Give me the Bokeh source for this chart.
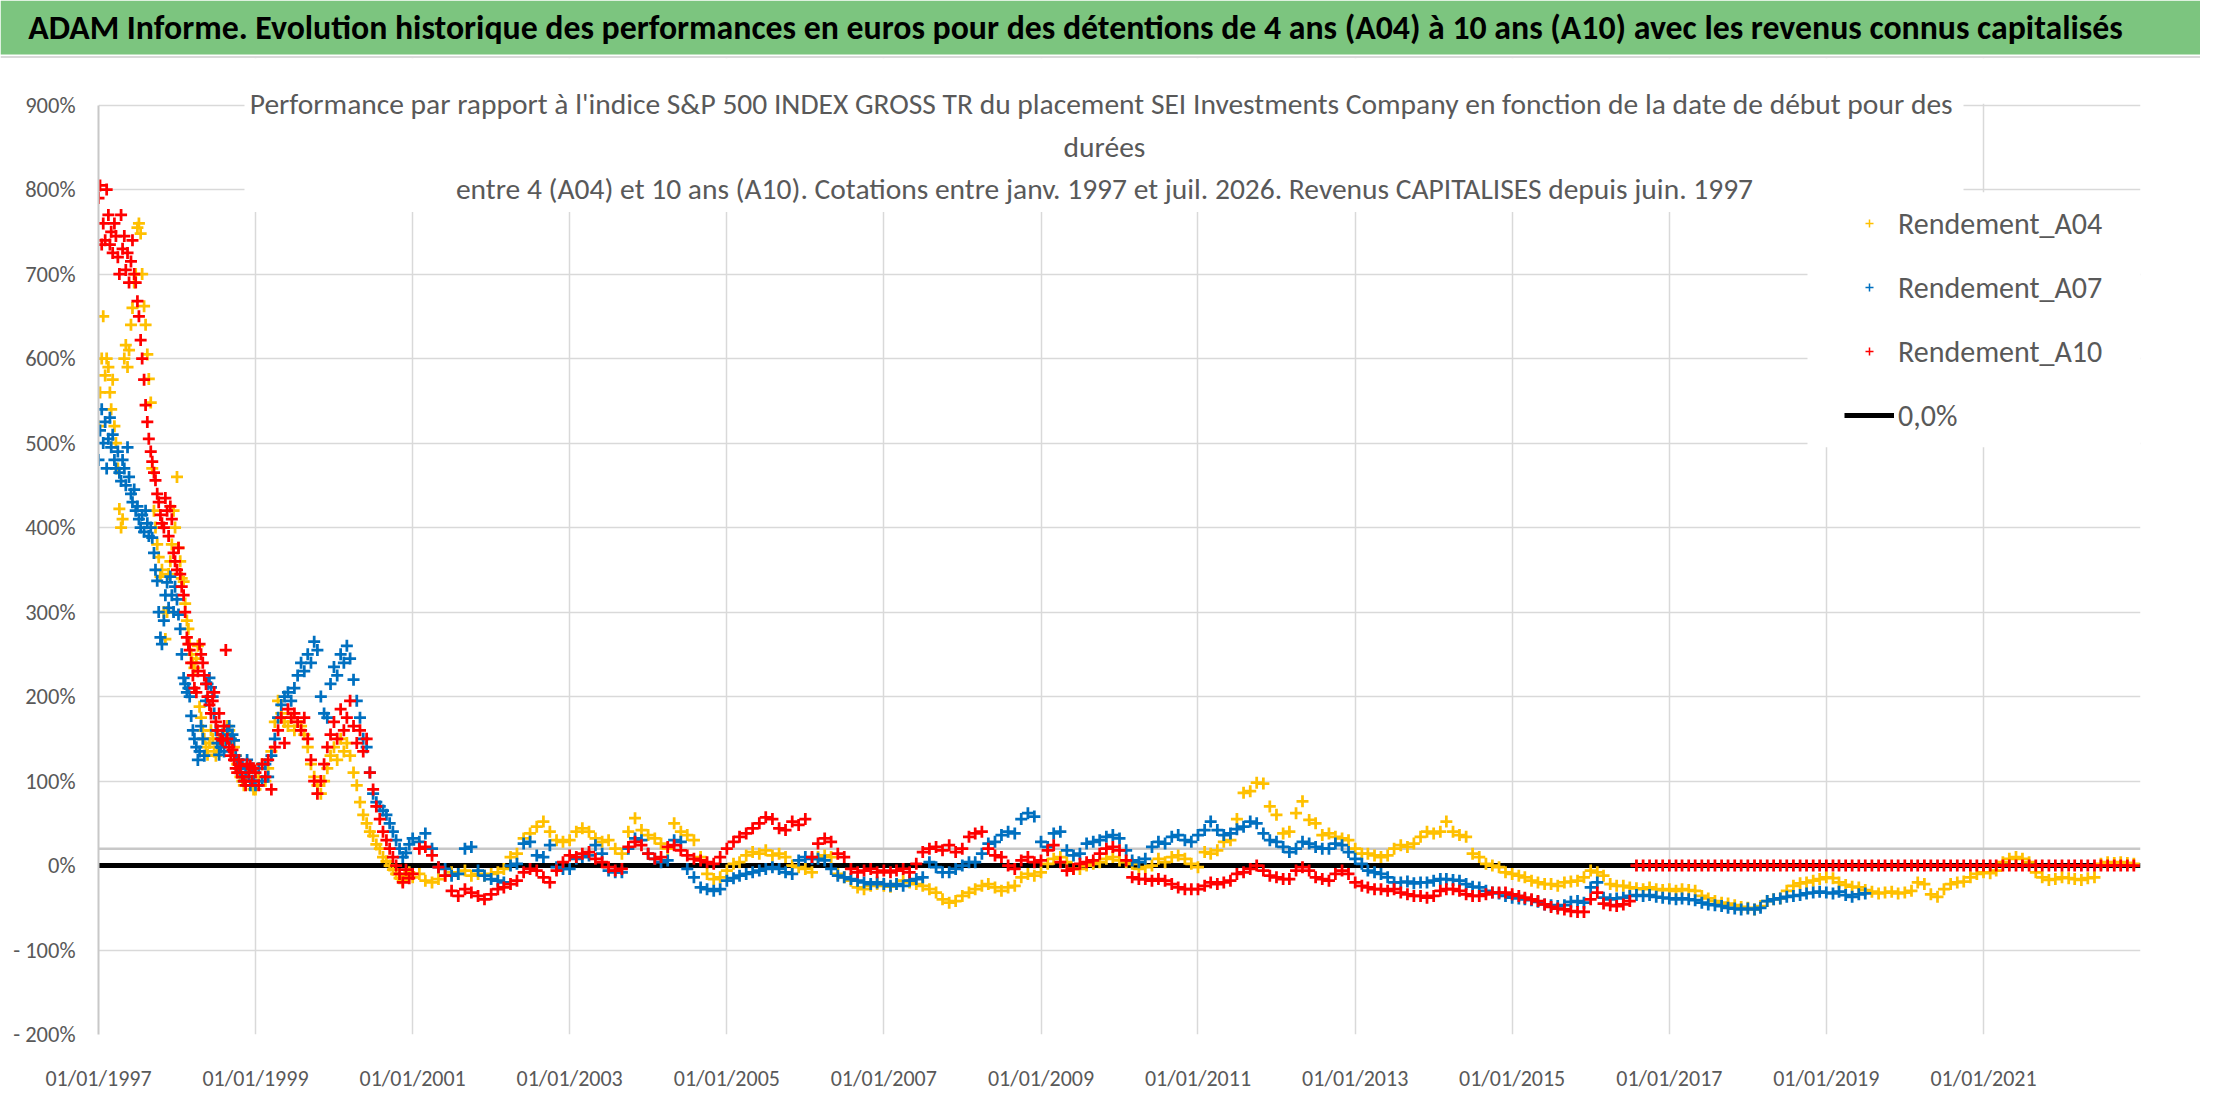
import pandas as pd
from bokeh.plotting import figure
from bokeh.layouts import column
from bokeh.models import (Range1d, FixedTicker, DatetimeTickFormatter, CustomJSTickFormatter,
                          Span, BoxAnnotation, Label, Legend, LegendItem)
from bokeh.embed import file_html
from bokeh.resources import INLINE

# ---- data (performance in %) ----
# 1997-1998: four readings per month (1st, 8th, 16th, 23rd)
a04_9798 = [
    520, 560, 600, 650, 580, 600, 590, 560, 540, 575, 520, 500,
    470, 422, 400, 410, 600, 616, 590, 610, 640, 660, 690, 700,
    755, 760, 748, 700, 662, 640, 605, 576, 548, 470, 420, 400,
    380, 365, 342, 350, 300, 268, 300, 345, 360, 380, 420, 400,
    460, 376, 360, 340, 336, 310, 290, 280, 262, 250, 240, 234,
    245, 260, 188, 175, 160, 150, 140, 131, 145, 160, 150, 135,
    130, 140, 150, 145, 155, 160, 150, 165, 160, 150, 148, 140,
    130, 120, 110, 105, 100, 95, 105, 115, 110, 100, 95, 90,
]
a07_9798 = [
    480, 515, 540, 500, 525, 470, 505, 530, 495, 510, 480, 470,
    490, 465, 455, 480, 470, 450, 495, 460, 440, 430, 445, 420,
    425, 410, 400, 415, 395, 420, 405, 390, 400, 388, 370, 350,
    337, 300, 270, 262, 290, 320, 335, 305, 342, 320, 300, 330,
    315, 297, 280, 250, 222, 215, 205, 210, 200, 177, 160, 150,
    140, 125, 135, 165, 150, 130, 195, 215, 222, 211, 200, 180,
    160, 145, 131, 140, 155, 135, 148, 160, 165, 150, 155, 148,
    130, 125, 115, 110, 120, 100, 110, 125, 105, 95, 115, 100,
]
a10_9798 = [
    790, 805, 735, 760, 740, 800, 770, 735, 750, 725, 760, 745,
    720, 700, 770, 730, 745, 705, 725, 690, 715, 740, 700, 690,
    668, 650, 622, 600, 575, 545, 525, 505, 490, 478, 465, 456,
    440, 430, 415, 405, 400, 435, 420, 390, 425, 410, 370, 360,
    350, 376, 345, 330, 320, 300, 270, 262, 255, 240, 225, 210,
    205, 230, 262, 250, 240, 225, 215, 200, 190, 180, 195, 205,
    170, 160, 180, 150, 148, 165, 255, 150, 140, 130, 137, 125,
    115, 110, 125, 118, 105, 100, 95, 120, 110, 118, 100, 115,
]
# 1999-2000: two readings per month (1st and 16th)
a04_9900 = [
    90, 105, 120, 100, 115, 135, 170, 195, 180, 170, 165, 175,
    160, 170, 165, 155, 140, 120, 105, 95, 85, 100, 115, 130,
    140, 125, 150, 135, 145, 130, 110, 95, 75, 60, 50, 40,
    35, 25, 20, 10, 5, 0, -5, -10, -15, -18, -12, -8,
]
a07_9900 = [
    95, 115, 100, 120, 105, 130, 150, 175, 190, 200, 205, 195,
    210, 225, 240, 230, 250, 240, 265, 255, 200, 180, 175, 215,
    235, 225, 250, 240, 260, 245, 220, 195, 175, 150, 140, 110,
    85, 75, 70, 65, 60, 50, 40, 30, 20, 10, 15, 25,
]
a10_9900 = [
    110, 95, 120, 105, 125, 90, 140, 160, 175, 145, 185, 175,
    180, 170, 160, 175, 150, 125, 100, 85, 100, 120, 140, 155,
    170, 150, 185, 160, 175, 195, 165, 145, 160, 135, 150, 110,
    90, 70, 55, 40, 30, 20, 10, 0, -10, -20, -5, -15,
]

# from 2001: one reading per month
a04_monthly = [
    -14, -10, -18, -20, -16, -12, -8, -10, -6, -12, -10, -12,    # 2001
    -10, -8, -4, 10, 14, 32, 38, 46, 52, 40, 30, 28,             # 2002
    30, 40, 44, 40, 32, 28, 30, 20, 14, 40, 56, 42,              # 2003
    36, 32, 26, 20, 50, 40, 36, 30, 10, -10, -16, -14,           # 2004
    -6, 2, 4, 12, 16, 14, 18, 12, 14, 10, 0, -2,                 # 2005
    -4, -8, 10, 12, 10, -10, -14, -18, -26, -28, -24, -22,       # 2006
    -24, -25, -22, -18, -20, -22, -24, -28, -32, -40, -44, -42,  # 2007
    -36, -32, -28, -24, -22, -26, -30, -26, -24, -14, -10, -12,  # 2008
    -8, 2, 8, 10, 4, -4, -4, 0, 2, 4, 8, 10,                     # 2009
    6, 4, 2, -4, -2, 0, 8, 4, 10, 12, 8, 2,                      # 2010
    -2, 16, 14, 18, 28, 30, 55, 86, 88, 98, 97, 70,              # 2011
    60, 38, 40, 62, 76, 54, 50, 36, 38, 34, 32, 30,              # 2012
    20, 14, 14, 12, 10, 12, 20, 24, 22, 26, 34, 40,              # 2013
    38, 40, 52, 40, 36, 34, 14, 10, 2, 0, -2, -8,                # 2014
    -10, -12, -14, -18, -20, -22, -22, -24, -20, -19, -18, -14,  # 2015
    -6, -8, -12, -22, -24, -24, -26, -27, -28, -26, -28, -29,    # 2016
    -28, -30, -28, -29, -30, -36, -39, -42, -44, -45, -47, -49,  # 2017
    -50, -52, -48, -42, -40, -39, -30, -24, -21, -20, -18, -16,  # 2018
    -14, -15, -20, -23, -25, -26, -29, -31, -33, -32, -31, -33,  # 2019
    -32, -30, -20, -22, -34, -37, -28, -22, -20, -19, -14, -10,  # 2020
    -8, -9, -6, 4, 8, 10, 8, 4, -8, -14, -17, -16,               # 2021
    -14, -15, -16, -17, -15, -14, 2, 4, 3, 4, 3, 2,              # 2022
]
a07_monthly = [
    32, 28, 38, 20, -2, -4, -12, -10, 20, 22, -6, -12,           # 2001
    -16, -18, -20, 0, 2, 26, 28, 12, 10, 24, -2, -4,             # 2002
    -4, 8, 10, 12, 24, 14, -6, -8, -8, 20, 32, 30,               # 2003
    14, 8, 4, 6, 30, 28, -4, -14, -26, -28, -30, -28,            # 2004
    -18, -15, -12, -10, -8, -6, -4, -2, -4, -8, -10, 6,          # 2005
    10, 8, 8, 6, -4, -12, -14, -16, -18, -20, -22, -20,          # 2006
    -22, -24, -22, -24, -18, -16, -14, 4, -2, -8, -8, -4,        # 2007
    0, 4, 4, 14, 26, 28, 36, 40, 38, 55, 62, 58,                 # 2008
    28, 22, 38, 40, 18, 12, 14, 26, 28, 30, 34, 36,              # 2009
    32, 18, 6, 4, 8, 22, 28, 26, 34, 36, 30, 28,                 # 2010
    36, 42, 52, 42, 36, 38, 43, 46, 52, 50, 38, 30,              # 2011
    28, 22, 16, 20, 28, 26, 22, 20, 20, 26, 24, 16,              # 2012
    8, 2, -6, -8, -10, -14, -20, -20, -19, -21, -20, -20,        # 2013
    -18, -16, -16, -17, -18, -22, -25, -26, -30, -32, -33, -36,  # 2014
    -38, -39, -40, -41, -43, -46, -47, -48, -47, -43, -42, -44,  # 2015
    -26, -20, -38, -40, -39, -38, -36, -35, -36, -35, -37, -38,  # 2016
    -39, -40, -39, -40, -41, -44, -46, -47, -48, -50, -51, -52,  # 2017
    -51, -52, -50, -42, -40, -39, -37, -36, -35, -33, -32, -31,  # 2018
    -32, -33, -31, -35, -37, -34, -33,                           # 2019 (to July)
]
a10_monthly = [
    -10, 20, 22, 12, -2, -12, -30, -36, -28, -32, -36, -40,      # 2001
    -34, -28, -26, -22, -18, -8, -4, -6, -14, -20, -6, 4,        # 2002
    12, 10, 14, 16, 8, 4, -2, -6, -4, 22, 28, 24,                # 2003
    14, 8, 10, 22, 24, 18, 12, 8, 6, 4, 2, 10,                   # 2004
    20, 28, 34, 38, 44, 50, 57, 55, 44, 42, 52, 48,              # 2005
    55, 10, 26, 32, 28, 14, 10, -4, -8, -6, -4, -8,              # 2006
    -6, -8, -6, -4, -8, 2, 16, 20, 22, 18, 24, 16,               # 2007
    20, 34, 38, 40, 20, 12, 10, 0, -4, 6, 10, 4,                 # 2008
    6, 18, 24, 4, -6, -4, 2, 4, 6, 14, 20, 22,                   # 2009
    18, 6, -14, -16, -16, -18, -16, -18, -22, -26, -28, -28,     # 2010
    -28, -24, -20, -22, -20, -18, -10, -8, -4, 0, -6, -12,       # 2011
    -14, -16, -16, -6, -2, -6, -14, -16, -18, -10, -6, -10,      # 2012
    -20, -24, -26, -28, -28, -30, -28, -32, -34, -36, -36, -38,  # 2013
    -36, -30, -28, -28, -30, -34, -36, -36, -34, -32, -32, -32,  # 2014
    -34, -36, -38, -40, -42, -46, -49, -51, -52, -54, -55, -55,  # 2015
    -40, -32, -45, -47, -48, -46, -42,                           # 2016 (to July)
    0, 0, 0, 0, 0,                                               # 2016 Aug-Dec
    0, 0, 0, 0, 0, 0, 0, 0, 0, 0, 0, 0,                          # 2017
    0, 0, 0, 0, 0, 0, 0, 0, 0, 0, 0, 0,                          # 2018
    0, 0, 0, 0, 0, 0, 0, 0, 0, 0, 0, 0,                          # 2019
    0, 0, 0, 0, 0, 0, 0, 0, 0, 0, 0, 0,                          # 2020
    0, 0, 0, 0, 0, 0, 0, 0, 0, 0, 0, 0,                          # 2021
    0, 0, 0, 0, 0, 0, 0, 0, 0, 0, 0, 0,                          # 2022
]
zero_dates = ["1997-01-01", "2023-01-01"]
zero_vals = [0, 0]

tick_years = list(range(1997, 2022, 2))
y_ticks = list(range(-200, 1000, 100))

series_names = ["Rendement_A04", "Rendement_A07", "Rendement_A10"]
series_colors = ["#FFC000", "#0070C0", "#FF0000"]

TITLE = ("ADAM Informe. Evolution historique des performances en euros pour des "
         "détentions de 4 ans (A04) à 10 ans (A10) avec les revenus connus capitalisés")
SUB = ["Performance par rapport à l'indice S&P 500 INDEX GROSS TR  du placement SEI Investments "
       "Company en fonction de la date de début pour des",
       "durées",
       "entre 4 (A04) et 10 ans (A10). Cotations entre janv. 1997 et juil. 2026. "
       "Revenus CAPITALISES depuis juin. 1997"]

FONT = "Carlito, Lato, sans-serif"
GREY_TXT = "#595959"
GRID = "#d9d9d9"

# ---- dates ----
dates_9798 = [pd.Timestamp(y, m, d) for y in (1997, 1998)
              for m in range(1, 13) for d in (1, 8, 16, 23)]
dates_9900 = [pd.Timestamp(y, m, d) for y in (1999, 2000)
              for m in range(1, 13) for d in (1, 16)]


def monthly(n):
    return list(pd.date_range("2001-01-01", periods=n, freq="MS"))


early = dates_9798 + dates_9900
dates = [early + monthly(len(a04_monthly)),
         early + monthly(len(a07_monthly)),
         early + monthly(len(a10_monthly))]
values = [a04_9798 + a04_9900 + a04_monthly,
          a07_9798 + a07_9900 + a07_monthly,
          a10_9798 + a10_9900 + a10_monthly]

x0 = pd.Timestamp("1997-01-01").value / 1e6
x1 = pd.Timestamp("2023-01-01").value / 1e6
FRAME_W = 2042
Y_TOP = 955.2   # the plot frame reaches a little above 900 % so the inner title fits


def xpix(px):
    # horizontal position measured in pixels from the left of the plot area
    return x0 + (x1 - x0) * px / FRAME_W


# ---- green title bar ----
t = figure(width=2200, height=58, x_range=Range1d(0, 2200), y_range=Range1d(0, 58),
           output_backend="svg", toolbar_location=None, min_border=0, frame_align=False)
t.axis.visible = False
t.grid.visible = False
t.outline_line_color = None
t.background_fill_color = "white"
t.border_fill_color = "white"
t.add_layout(BoxAnnotation(bottom=4, top=58, left=0, right=2200, fill_color="#7CC57F",
                           fill_alpha=1, line_color=None))
t.add_layout(Span(location=1.5, dimension="width", line_color=GRID, line_width=2))
t.add_layout(Label(x=1075, y=31, text=TITLE, text_align="center", text_baseline="middle",
                   text_font=FONT, text_font_size="33.8px", text_font_style="bold",
                   text_color="black"))

# ---- main chart ----
p = figure(width=2200, height=1036, x_axis_type="datetime",
           x_range=Range1d(x0, x1), y_range=Range1d(-200, Y_TOP),
           output_backend="svg", toolbar_location=None, frame_align=False,
           min_border_left=98, min_border_right=60, min_border_top=0, min_border_bottom=57)
p.outline_line_color = None
p.background_fill_color = "white"
p.border_fill_color = "white"

xticks = [pd.Timestamp(y, 1, 1).value / 1e6 for y in tick_years]
p.xaxis.ticker = FixedTicker(ticks=xticks)
p.xaxis.formatter = DatetimeTickFormatter(years="%d/%m/%Y", months="%d/%m/%Y", days="%d/%m/%Y")
p.yaxis.ticker = FixedTicker(ticks=y_ticks)
p.yaxis.formatter = CustomJSTickFormatter(
    code="return tick < 0 ? '- ' + Math.abs(tick) + '%' : tick + '%';")

for ax in (p.xaxis, p.yaxis):
    ax.major_tick_line_color = None
    ax.minor_tick_line_color = None
    ax.major_label_text_color = GREY_TXT
    ax.major_label_text_font = FONT
    ax.major_label_text_font_size = "22px"
p.yaxis.major_label_text_font_size = "22.5px"
p.xaxis.axis_line_color = None
p.yaxis.axis_line_color = "#c8c8c8"
p.yaxis.axis_line_width = 2
p.yaxis.bounds = (-200, 900)
p.xaxis.major_label_standoff = 24
p.yaxis.major_label_standoff = 17

p.grid.grid_line_color = GRID
p.grid.grid_line_width = 1.5
p.add_layout(Span(location=20, dimension="width", line_color="#c8c8c8", line_width=2.5,
                  level="underlay"))

zero_r = p.line(pd.to_datetime(zero_dates), zero_vals, line_color="black", line_width=5)
legend_marks = []
for d, v, c in zip(dates, values, series_colors):
    p.scatter(d, v, marker="cross", size=12, line_width=2.75, color=c)
    # thin copy of the first point, used for the small legend swatch
    legend_marks.append(p.scatter(d[:1], v[:1], marker="cross", size=8, line_width=1.5,
                                  color=c))

# white areas: above 900 %, behind the inner title and behind the legend
p.add_layout(BoxAnnotation(left=x0, right=x1, bottom=901.5, top=Y_TOP,
                           fill_color="white", fill_alpha=1, line_color=None))
p.add_layout(BoxAnnotation(left=xpix(146), right=xpix(1865), bottom=773.5, top=Y_TOP,
                           fill_color="white", fill_alpha=1, line_color=None))
p.add_layout(BoxAnnotation(left=xpix(1709), right=x1, bottom=495, top=797,
                           fill_color="white", fill_alpha=1, line_color=None))

for txt, dy in zip(SUB, [0.8, -42.2, -83.5]):
    p.add_layout(Label(x=x0, y=900, x_offset=1006, y_offset=dy, text=txt,
                       text_align="center", text_baseline="middle",
                       text_font=FONT, text_font_size="29.5px", text_color=GREY_TXT))

items = [LegendItem(label=n, renderers=[r]) for n, r in zip(series_names, legend_marks)]
items.append(LegendItem(label="0,0%", renderers=[zero_r]))
legend = Legend(items=items, location=(1746, 597), orientation="vertical",
                background_fill_alpha=0, border_line_color=None,
                label_text_font=FONT, label_text_font_size="30px", label_text_color=GREY_TXT,
                glyph_width=50, glyph_height=20, label_height=44, label_standoff=4,
                spacing=20, padding=18, margin=0)
p.add_layout(legend)

layout = column(t, p, spacing=0)
open("out.html", "w").write(file_html(layout, INLINE))
